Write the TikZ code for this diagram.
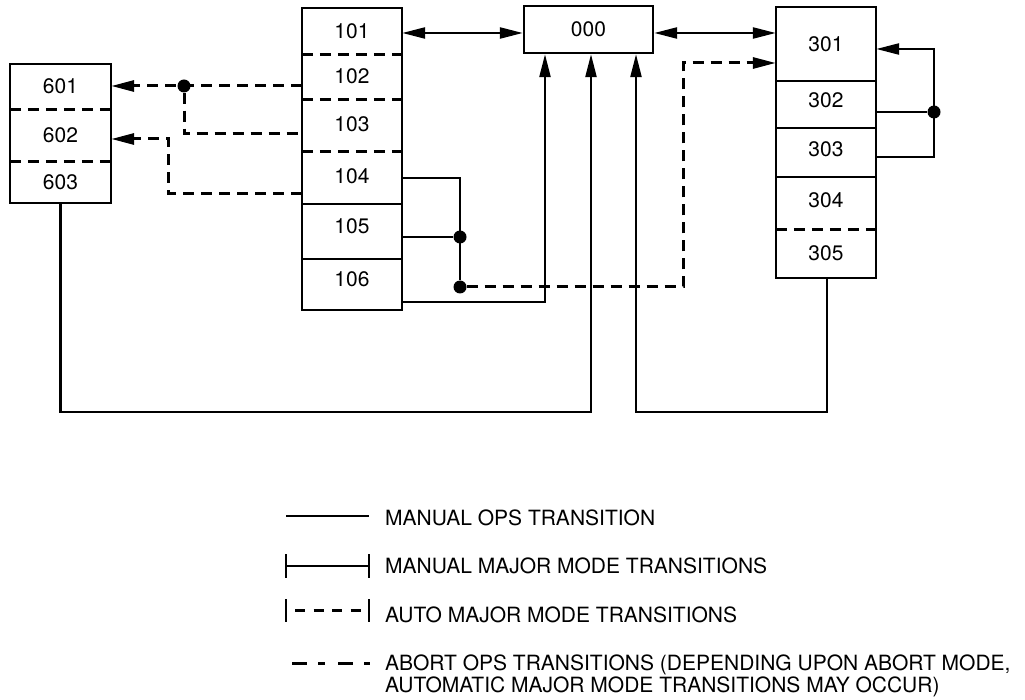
\documentclass[tikz,border=0pt]{standalone}
\usepackage{fontspec}
\setmainfont{TeX Gyre Heros}
\usetikzlibrary{arrows.meta}
\begin{document}
\begin{tikzpicture}[x=1pt,y=-1pt,
  every node/.style={font=\fontsize{21}{22}\selectfont},
  cell/.style={rectangle, draw=none, inner sep=0pt, minimum width=100pt},
  frame/.style={line width=2.4pt},
  manual/.style={line width=2.4pt},
  abort/.style={line width=3pt, dash pattern=on 11pt off 7pt},
  tip/.style={-{Triangle[length=23pt,width=11pt]}},
  dtip/.style={{Triangle[length=23pt,width=11pt]}-{Triangle[length=23pt,width=11pt]}},
  dot/.style={circle, fill, inner sep=0pt, minimum size=13pt},
  lift/.style={text depth=#1},
]
\useasboundingbox (0,0) rectangle (1025,700);

% ---- left column 601-603
\node[cell, minimum width=101pt, minimum height=45pt] (c601) at (60.5,86.5) {601};
\node[cell, minimum width=101pt, minimum height=52pt] (c602) at (60.5,135) {602};
\node[cell, minimum width=101pt, minimum height=42pt] (c603) at (60.5,182) {603};
\draw[frame] (c601.north west) rectangle (c603.south east);
\draw[abort] (c601.south west) -- (c601.south east);
\draw[abort] (c602.south west) -- (c602.south east);

% ---- middle column 101-106
\node[cell, minimum height=46pt] (c101) at (352,31) {101};
\node[cell, minimum height=45pt] (c102) at (352,76.5) {102};
\node[cell, minimum height=52pt, lift=2pt] (c103) at (352,125) {103};
\node[cell, minimum height=53pt, lift=3pt] (c104) at (352,177.5) {104};
\node[cell, minimum height=55pt, lift=11pt] (c105) at (352,231.5) {105};
\node[cell, minimum height=51pt, lift=11pt] (c106) at (352,284.5) {106};
\draw[frame] (c101.north west) rectangle (c106.south east);
\draw[abort] (c101.south west) -- (c101.south east);
\draw[abort] (c102.south west) -- (c102.south east);
\draw[abort] (c103.south west) -- (c103.south east);
\draw[frame] (c104.south west) -- (c104.south east);
\draw[frame] (c105.south west) -- (c105.south east);

% ---- right column 301-305
\node[cell, minimum height=74pt] (c301) at (826,44) {301};
\node[cell, minimum height=47pt, lift=8pt] (c302) at (826,104.5) {302};
\node[cell, minimum height=49pt, lift=7pt] (c303) at (826,152.5) {303};
\node[cell, minimum height=52pt, lift=6pt] (c304) at (826,203) {304};
\node[cell, minimum height=49pt] (c305) at (826,253.5) {305};
\draw[frame] (c301.north west) rectangle (c305.south east);
\draw[frame] (c301.south west) -- (c301.south east);
\draw[frame] (c302.south west) -- (c302.south east);
\draw[frame] (c303.south west) -- (c303.south east);
\draw[abort] (c304.south west) -- (c304.south east);

% ---- 000
\node[draw, line width=2.4pt, inner sep=0pt, minimum width=129pt, minimum height=47pt] (z) at (588.5,29.5) {000};

% ---- connectors
\draw[manual,dtip] ([yshift=-2pt]c101.east) -- ([yshift=-2pt]c101.east -| z.west);
\draw[manual,dtip] ([yshift=-3.5pt]z.east) -- ([yshift=-3.5pt]z.east -| c301.west);

\node[dot] (d1) at (184,86) {};
\coordinate (k103) at ([yshift=-9pt]c103.west);
\coordinate (k104) at ([yshift=-16.5pt]c104.west);
\coordinate (k602) at ([yshift=-4pt]c602.east);
\draw[abort,tip] (c102.west |- d1) -- (c601.east |- d1);
\draw[abort] (d1) -- (d1 |- k103) -- (k103);
\draw[abort,tip] (k104) -- ++(-133,0) |- (k602);

\node[dot] (d2) at (460,237) {};
\node[dot] (d3) at (460,287) {};
\coordinate (k301) at ([yshift=-19pt]c301.west);
\coordinate (k106) at ([yshift=-17.5pt]c106.east);
\draw[manual] ([yshift=-0.5pt]c104.east) -- ([yshift=-0.5pt]c104.east -| d2) -- (d3);
\draw[manual] (c105.east |- d2) -- (d2);
\draw[abort,tip] (d3) -- ++(223,0) |- (k301);
\draw[manual,tip] (k106) -| ([xshift=-43.5pt]z.south);
\draw[manual,tip] (c603.south) -- ++(0,209) -| ([xshift=2.5pt]z.south);
\draw[manual,tip] ([xshift=1pt]c305.south) -- ++(0,134) -| ([xshift=47.5pt]z.south);

\node[dot] (d4) at (934,112) {};
\coordinate (k303) at ([yshift=-4.5pt]c303.east);
\coordinate (k301e) at ([yshift=-5pt]c301.east);
\draw[manual] (c302.east |- d4) -- (d4);
\draw[manual,tip] (k303) -- (k303 -| d4) -- (d4 |- k301e) -- (k301e);

% ---- legend
\node[anchor=base west, inner sep=0pt] (l1) at (385,525) {MANUAL OPS TRANSITION};
\node[anchor=base west, inner sep=0pt] (l2) at (385,573) {MANUAL MAJOR MODE TRANSITIONS};
\node[anchor=base west, inner sep=0pt] (l3) at (385,622) {AUTO MAJOR MODE TRANSITIONS};
\node[anchor=base west, inner sep=0pt, align=left] (l4) at (385,692) {ABORT OPS TRANSITIONS (DEPENDING UPON ABORT MODE,\\AUTOMATIC MAJOR MODE TRANSITIONS MAY OCCUR)};

\draw[manual] (286,516) -- (369,516);
\draw[manual] (286,566) -- (369,566);
\draw[manual] (286,554) -- (286,578);
\draw[manual] (369,554) -- (369,578);
\draw[manual] (286,599) -- (286,622);
\draw[manual] (369,599) -- (369,622);
\draw[line width=3pt, dash pattern=on 10pt off 8.5pt] (295,610) -- (369,610);
\draw[line width=3pt, dash pattern=on 15pt off 11pt on 7pt off 13pt] (292,663) -- (370,663);
\end{tikzpicture}
\end{document}
